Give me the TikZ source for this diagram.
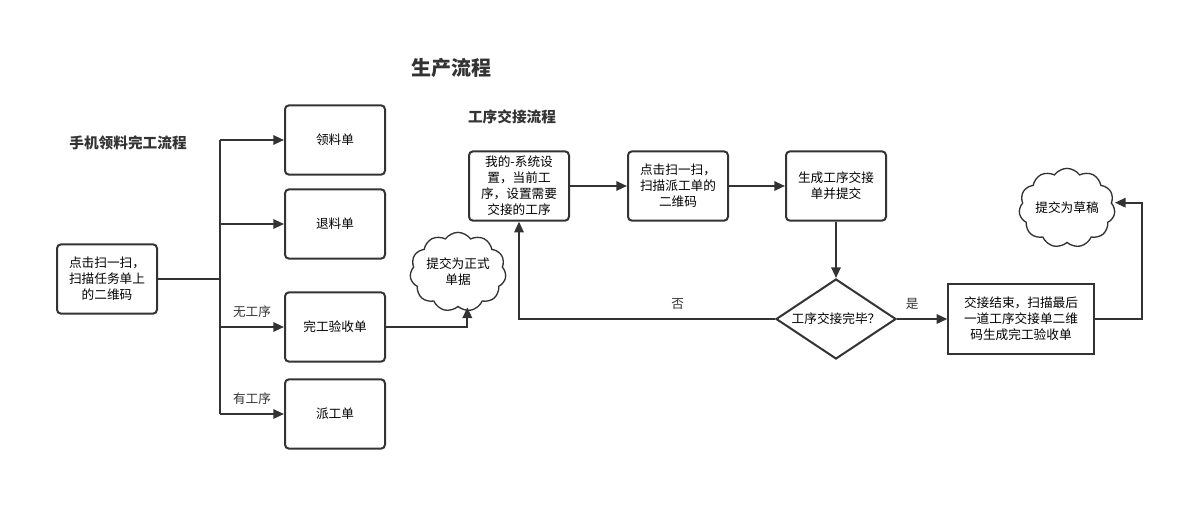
\documentclass[tikz,border=0pt]{standalone}
\usepackage{fontspec}
\setmainfont{Noto Sans CJK SC}
\usepackage{tikz}
\usetikzlibrary{arrows.meta,positioning,shapes.geometric,shapes.symbols,calc}
\definecolor{ink}{HTML}{333333}
\tikzset{
  box/.style={draw=ink, line width=1.5pt, rounded corners=3pt, align=center,
    minimum width=75pt, minimum height=52pt, inner sep=2pt, font=\fontsize{9.5}{12}\selectfont},
  sqbox/.style={box, rounded corners=0pt, minimum width=109pt},
  cloudnode/.style={draw=ink, line width=1pt, cloud, cloud puffs=11, cloud puff arc=110,
    aspect=1.3, align=center, minimum width=66pt, minimum height=50pt, inner sep=0pt,
    font=\fontsize{9.5}{12}\selectfont},
  dec/.style={draw=ink, line width=1.5pt, diamond, aspect=1.5, inner sep=1pt,
    minimum width=90pt, minimum height=60pt, font=\fontsize{9.5}{12}\selectfont},
  title/.style={font=\bfseries\fontsize{11}{13}\selectfont, text=ink},
  lbl/.style={font=\fontsize{9.5}{12}\selectfont, text=ink},
  line/.style={draw=ink, line width=1.5pt},
  arrow/.style={line, -{Triangle[length=8pt,width=7pt]}}
}
\begin{document}
\begin{tikzpicture}[x=0.75pt, y=-0.75pt]
    \useasboundingbox (0,0) rectangle (1203,511);
    % Titles
    \node[title, font=\bfseries\fontsize{15}{17}\selectfont] (main) at (451,68) {生产流程};
    \node[title] (left) at (128,143) {手机领料完工流程};
    \node[title] (right) at (512,117) {工序交接流程};
    % Left flow
    \node[box] (scan) at (107,279) {点击扫一扫，\\扫描任务单上\\的二维码};
    \node[box] (pick) at (335,140) {领料单};
    \node[box] (ret) at (335,224) {退料单};
    \node[box] (done) at (335,327) {完工验收单};
    \node[box] (disp) at (335,414) {派工单};
    \node[cloudnode] (formal) at (458,272) {提交为正式\\单据};
    \coordinate (trunk) at (220,279);
    \draw[line] (scan.east) -- (trunk);
    \draw[line] (trunk |- pick) -- (trunk |- disp);
    \draw[arrow] (trunk |- pick) -- (pick);
    \draw[arrow] (trunk |- ret) -- (ret);
    \draw[arrow] (trunk |- done) -- node[lbl, above=3pt] {无工序} (done);
    \draw[arrow] (trunk |- disp) -- node[lbl, above=3pt] {有工序} (disp);
    \draw[arrow] (done.east) -| ([xshift=7]formal.south);
    % Right flow
    \node[box] (setup) at (519,186) {我的-系统设\\置，当前工\\序，设置需要\\交接的工序};
    \node[box] (scanb) at (678,186) {点击扫一扫，\\扫描派工单的\\二维码};
    \node[box] (gen) at (836,186) {生成工序交接\\单并提交};
    \node[dec] (check) at (836,319) {工序交接完毕？};
    \node[sqbox] (finish) at (1021,319) {交接结束，扫描最后\\一道工序交接单二维\\码生成完工验收单};
    \node[cloudnode] (draft) at (1067,208) {提交为草稿};
    \draw[arrow] (setup) -- (scanb);
    \draw[arrow] (scanb) -- (gen);
    \draw[arrow] (gen) -- (check);
    \draw[arrow] (check.west) -| node[lbl, pos=0.19, above=3pt] {否} (setup.south);
    \draw[arrow] (check.east) -- node[lbl, pos=0.3, above=3pt] {是} (finish.west);
    \draw[arrow] (finish.east) -- ++(47,0) |- ([yshift=4]draft.east);
  \end{tikzpicture}
\end{document}
